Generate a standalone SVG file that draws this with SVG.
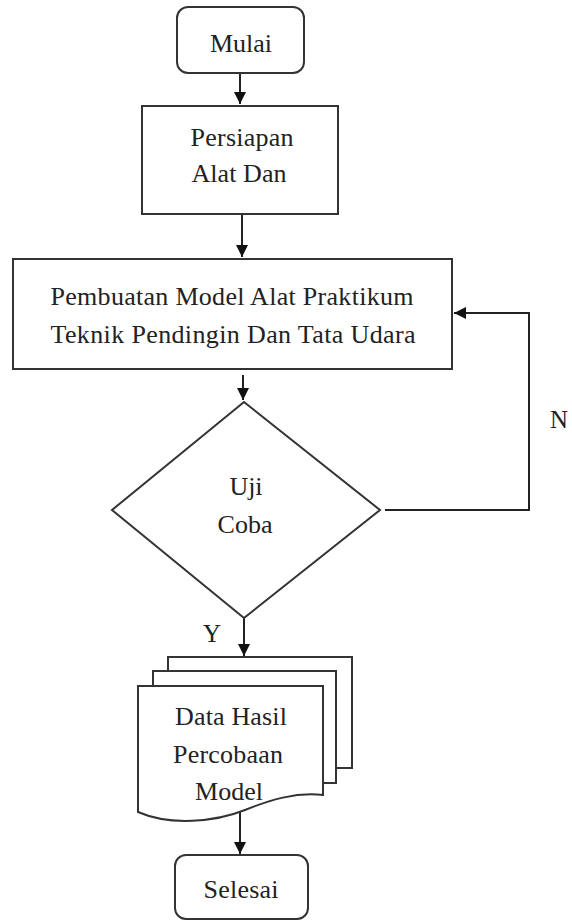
<svg xmlns="http://www.w3.org/2000/svg" width="572" height="922" viewBox="0 0 572 922">
<style>
.s{fill:#fff;stroke:#333;stroke-width:2}
.c{fill:none;stroke:#222;stroke-width:2}
text{font-family:"Liberation Serif","Times New Roman",serif;font-size:26px;fill:#222;text-anchor:middle}
</style>
<defs>
<marker id="ah" viewBox="0 0 12 12" refX="12" refY="6" markerWidth="12" markerHeight="12" markerUnits="userSpaceOnUse" orient="auto">
<path d="M0,0 L12,6 L0,12 Z" fill="#111"/>
</marker>
</defs>
<rect width="572" height="922" fill="#fff"/>
<g id="connectors">
<line class="c" x1="240" y1="73" x2="240" y2="104" marker-end="url(#ah)"/>
<line class="c" x1="242" y1="215" x2="242" y2="257" marker-end="url(#ah)"/>
<line class="c" x1="243" y1="375" x2="243" y2="400" marker-end="url(#ah)"/>
<line class="c" x1="244" y1="618" x2="244" y2="656" marker-end="url(#ah)"/>
<line class="c" x1="240" y1="806" x2="240" y2="854" marker-end="url(#ah)"/>
<polyline class="c" points="385,510 529,510 529,313 454,313" marker-end="url(#ah)"/>
<text x="212" y="642" textLength="18" lengthAdjust="spacingAndGlyphs">Y</text>
<text x="559" y="428" textLength="18" lengthAdjust="spacingAndGlyphs">N</text>
</g>
<g id="mulai">
<rect class="s" x="177" y="7" width="127" height="66" rx="11"/>
<text x="241" y="52" textLength="62" lengthAdjust="spacing">Mulai</text>
</g>
<g id="persiapan">
<rect class="s" x="142" y="106" width="196" height="108"/>
<text x="242" y="146" textLength="103" lengthAdjust="spacing">Persiapan</text>
<text x="239" y="182" textLength="95" lengthAdjust="spacing">Alat Dan</text>
</g>
<g id="pembuatan">
<rect class="s" x="13" y="259" width="439" height="110"/>
<text x="232" y="305" textLength="363" lengthAdjust="spacing">Pembuatan Model Alat Praktikum</text>
<text x="233" y="343" textLength="365" lengthAdjust="spacing">Teknik Pendingin Dan Tata Udara</text>
</g>
<g id="ujicoba">
<polygon class="s" points="244,402 380,510 244,618 112,510"/>
<text x="246" y="495" textLength="33" lengthAdjust="spacing">Uji</text>
<text x="245" y="533" textLength="55" lengthAdjust="spacing">Coba</text>
</g>
<g id="data">
<rect class="s" x="168" y="657" width="184" height="111"/>
<rect class="s" x="153" y="671" width="183" height="112"/>
<path class="s" d="M138,686 H323 V795 C295,792 270,800 245,810 C215,822 170,826 138,812 Z"/>
<text x="231" y="725" textLength="112" lengthAdjust="spacing">Data Hasil</text>
<text x="228" y="763" textLength="110" lengthAdjust="spacing">Percobaan</text>
<text x="229" y="800" textLength="68" lengthAdjust="spacing">Model</text>
</g>
<g id="selesai">
<rect class="s" x="175" y="855" width="133" height="64" rx="11"/>
<text x="241" y="898" textLength="75" lengthAdjust="spacing">Selesai</text>
</g>
</svg>
